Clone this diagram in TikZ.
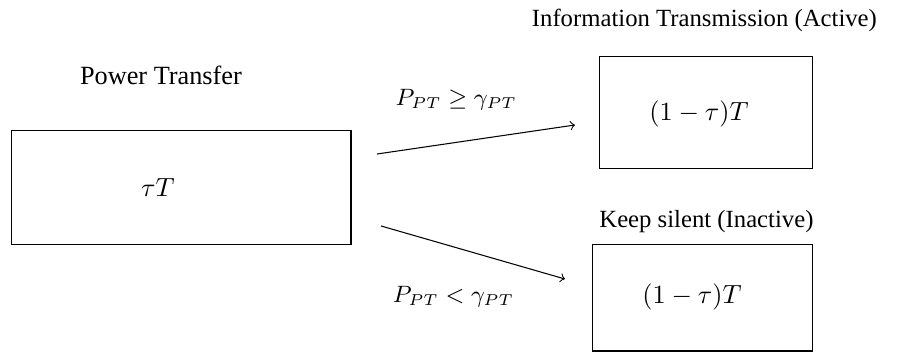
\documentclass[tikz,border=0pt]{standalone}
\usepackage{fontspec}
\setmainfont{Liberation Serif}
\begin{document}
\begin{tikzpicture}[slotbox/.style = {draw, line width = 0.4pt, inner sep = 0pt},
                    slottitle/.style = {font = \fontsize{9.4}{11}\selectfont},
                    condlabel/.style = {font = \small}]
                    \useasboundingbox (0, 0) rectangle (12.26, -4.706);
                    \path   node (PT) at (2.152, -1.003) {Power Transfer}
                            node[slotbox, minimum width = 4.545cm, minimum height = 1.524cm] (A) at (2.42, -2.513) {}
                            node (At) at (2.112, -2.513) {\(\tau T\)}
                            node[slottitle] (IT) at (9.418, -0.267) {Information Transmission (Active)}
                            node[slotbox, minimum width = 2.848cm, minimum height = 1.51cm] (B) at (9.445, -1.504) {}
                            node (Bt) at (9.345, -1.52) {\((1-\tau)T\)}
                            node[slottitle] (KS) at (9.445, -2.968) {Keep silent (Inactive)}
                            node[slotbox, minimum width = 2.941cm, minimum height = 1.418cm] (C) at (9.398, -3.984) {}
                            node (Ct) at (9.251, -3.97) {\((1-\tau)T\)}
                            node[condlabel] (L1) at (6.10, -1.337) {\(P_{PT} \geq \gamma_{PT}\)}
                            node[condlabel] (L2) at (6.063, -3.97) {\(P_{PT} < \gamma_{PT}\)};
                    \coordinate (a1) at (5.040, -2.059);
                    \coordinate (b1) at (7.687, -1.671);
                    \coordinate (a2) at (5.094, -3.021);
                    \coordinate (b2) at (7.553, -3.730);
                    \draw[->] (a1) -- (b1);
                    \draw[->] (a2) -- (b2);
                \end{tikzpicture}
\end{document}
